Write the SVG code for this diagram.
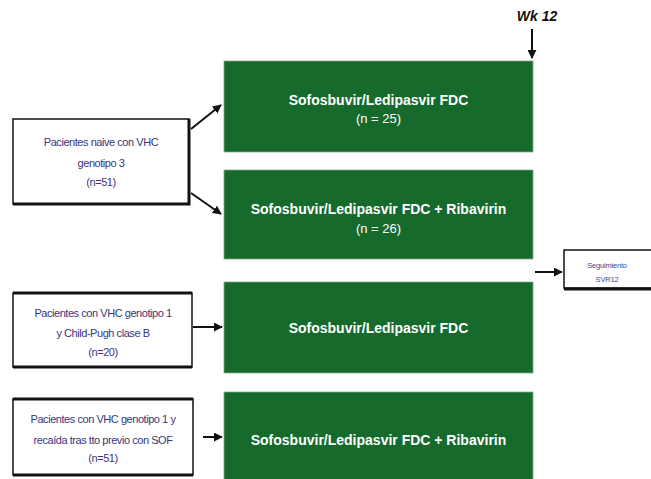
<svg xmlns="http://www.w3.org/2000/svg" width="651" height="479" viewBox="0 0 651 479">
<style>
.g{fill:#166a2c;stroke:#7fae88;stroke-width:0.8}
.w{fill:#fff;stroke:#111;stroke-width:1.5}
.sh{stroke:#111;stroke-width:3;fill:none}
.t{font-family:"Liberation Sans",Arial,sans-serif;font-size:14px;font-weight:bold;fill:#fff;text-anchor:middle}
.n{font-family:"Liberation Sans",Arial,sans-serif;font-size:13px;fill:#fff;text-anchor:middle}
.l{font-family:"Liberation Sans",Arial,sans-serif;font-size:11px;fill:#3a357a;text-anchor:middle;letter-spacing:-0.45px}
.s{font-family:"Liberation Sans",Arial,sans-serif;font-size:7.5px;fill:#3a4a8a;text-anchor:middle;letter-spacing:-0.2px}
.c{stroke:#111;stroke-width:2;fill:none;marker-end:url(#a)}
</style>
<defs>
<marker id="a" viewBox="0 0 10 10" refX="9" refY="5" markerWidth="4.5" markerHeight="4.5" orient="auto" markerUnits="strokeWidth">
<path d="M0,0 L10,5 L0,10 z" fill="#111"/>
</marker>
</defs>
<g id="wk12">
<text x="537" y="21" font-family="Liberation Sans,Arial,sans-serif" font-size="14" font-weight="bold" font-style="italic" fill="#111" text-anchor="middle">Wk 12</text>
</g>
<g id="left1">
<rect class="w" x="13" y="119" width="176" height="85"/>
<path class="sh" d="M13,204 H189 V119"/>
<text class="l" x="101" y="146">Pacientes naive con VHC</text>
<text class="l" x="101" y="167">genotipo 3</text>
<text class="l" x="101" y="186">(n=51)</text>
</g>
<g id="left2">
<rect class="w" x="13" y="293" width="179" height="74"/>
<path class="sh" d="M13,293 H192 M13,367 H192"/>
<text class="l" x="103" y="317">Pacientes  con VHC genotipo 1</text>
<text class="l" x="103" y="337">y  Child-Pugh clase B</text>
<text class="l" x="103" y="356">(n=20)</text>
</g>
<g id="left3">
<rect class="w" x="13" y="399" width="180" height="76"/>
<path class="sh" d="M13,399 H193 M13,475 H193"/>
<text class="l" x="103" y="423">Pacientes con VHC genotipo 1 y</text>
<text class="l" x="103" y="444">recaída tras tto previo con SOF</text>
<text class="l" x="103" y="462">(n=51)</text>
</g>
<g id="box1">
<rect class="g" x="224" y="61" width="309" height="91"/>
<text class="t" x="378.5" y="105">Sofosbuvir/Ledipasvir FDC</text>
<text class="n" x="378.5" y="123">(n = 25)</text>
</g>
<g id="box2">
<rect class="g" x="224" y="170" width="309" height="89"/>
<text class="t" x="378.5" y="214">Sofosbuvir/Ledipasvir FDC + Ribavirin</text>
<text class="n" x="378.5" y="233">(n = 26)</text>
</g>
<g id="box3">
<rect class="g" x="224" y="282" width="309" height="91"/>
<text class="t" x="378.5" y="333">Sofosbuvir/Ledipasvir FDC</text>
</g>
<g id="box4">
<rect class="g" x="224" y="392" width="309" height="90"/>
<text class="t" x="378.5" y="445">Sofosbuvir/Ledipasvir FDC + Ribavirin</text>
</g>
<g id="followup">
<rect class="w" x="564" y="250" width="90" height="38" stroke-width="1"/>
<path class="sh" d="M564,289 H654" stroke-width="2.5"/>
<text class="s" x="607" y="268">Seguimiento</text>
<text class="s" x="607" y="282">SVR12</text>
</g>
<g id="connectors">
<path class="c" d="M532,29 V58"/>
<path class="c" d="M191,129 L221,105"/>
<path class="c" d="M191,193 L221,214"/>
<path class="c" d="M193,327 H222"/>
<path class="c" d="M203,437 H222"/>
<path class="c" d="M535,272 H562"/>
</g>
</svg>
